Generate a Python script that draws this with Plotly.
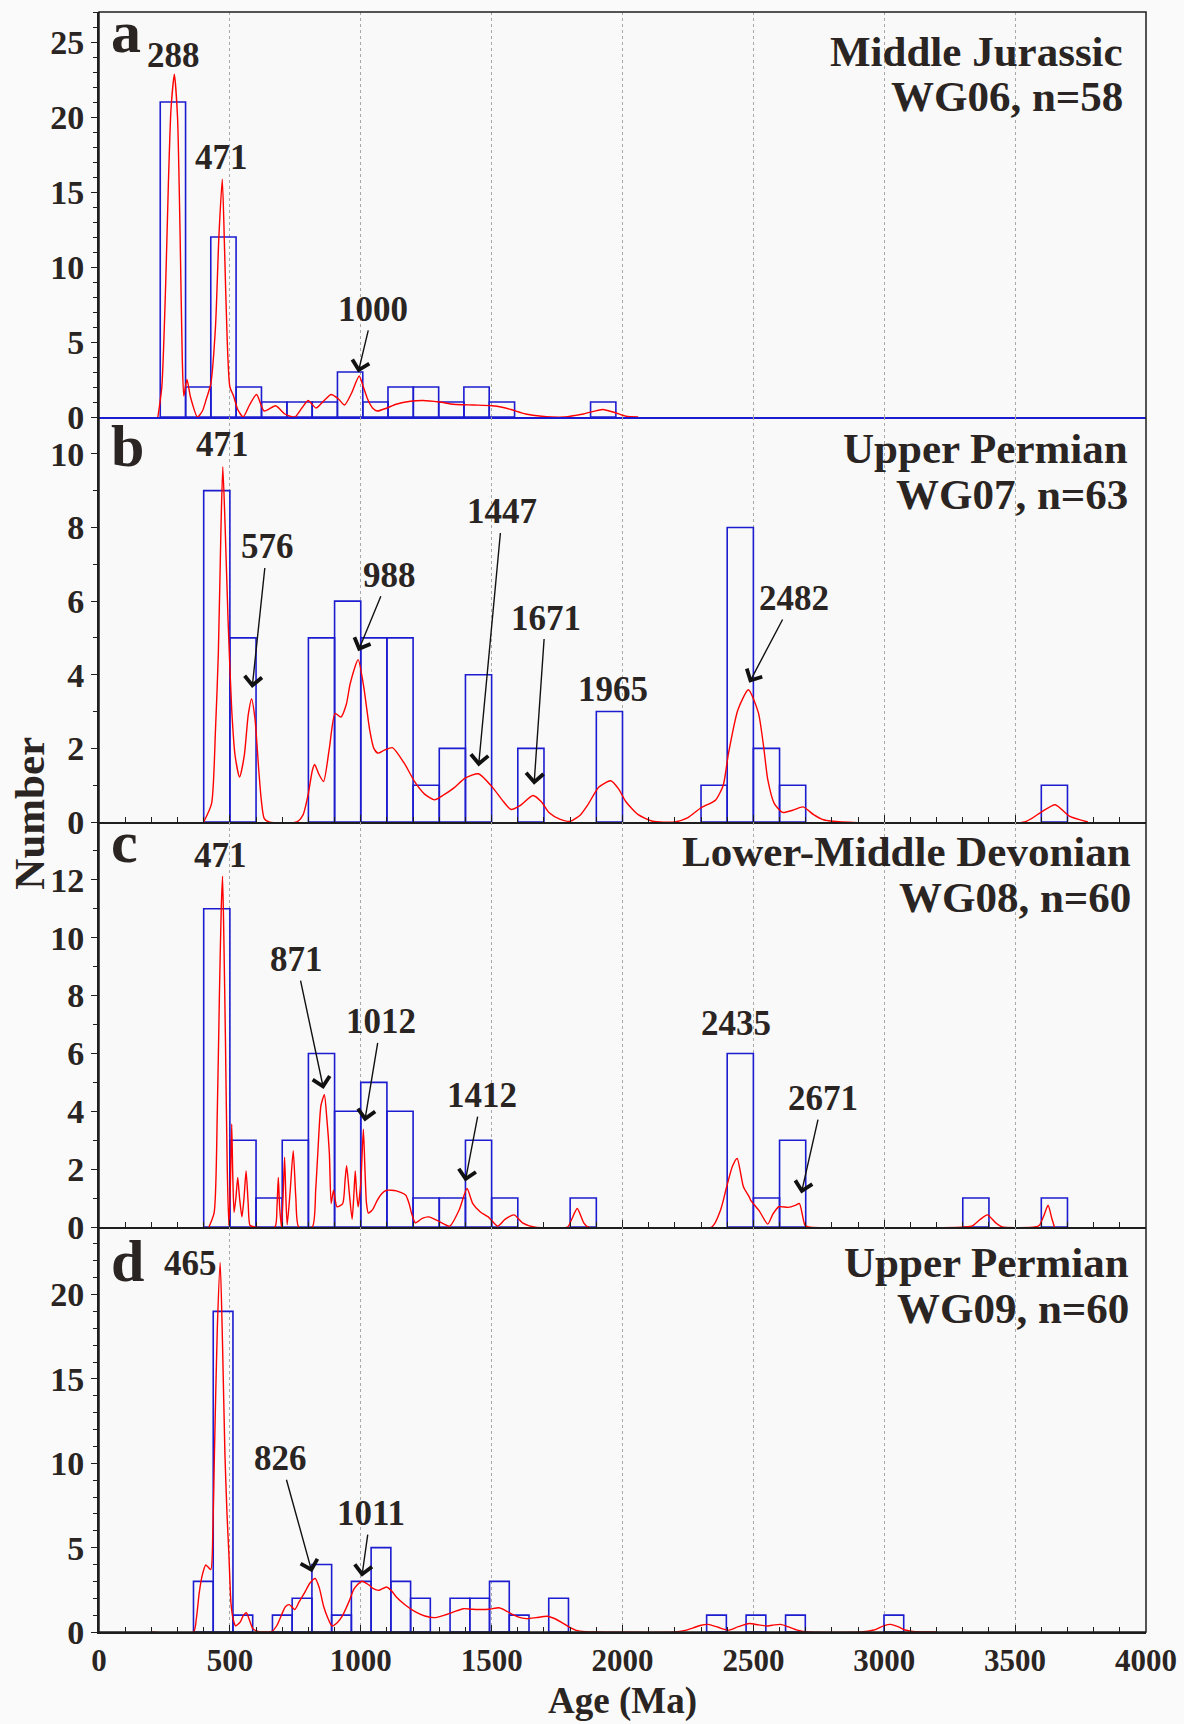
import plotly.graph_objects as go

FONT = "Liberation Serif"
TXT = "#2a2522"
BLUE = "#1c1cd0"
RED = "#ff0000"
AXC = "#1e1e1e"

# ---------------- histogram data (bin left edge in Ma, counts) ----------------
a_bin_left = [234, 331, 427, 524, 621, 718, 814, 911, 1008, 1104, 1201, 1298, 1394, 1491, 1878]
a_bin_width = 96.7
a_counts = [21, 2, 12, 2, 1, 1, 1, 3, 1, 2, 2, 1, 2, 1, 1]

b_bin_left = [400, 500, 800, 900, 1000, 1100, 1200, 1300, 1400, 1600, 1900, 2300, 2400, 2500, 2600, 3600]
b_bin_width = 100
b_counts = [9, 5, 5, 6, 5, 5, 1, 2, 4, 2, 3, 1, 8, 2, 1, 1]

c_bin_left = [400, 500, 600, 700, 800, 900, 1000, 1100, 1200, 1300, 1400, 1500, 1800, 2400, 2500, 2600, 3300, 3600]
c_bin_width = 100
c_counts = [11, 3, 1, 3, 6, 4, 5, 4, 1, 1, 3, 1, 1, 6, 1, 3, 1, 1]

d_bin_left = [361, 436.4, 511.8, 662.6, 738, 813.4, 888.8, 964.2, 1039.6, 1115, 1190.4, 1341.2, 1416.6,
              1492, 1567.4, 1718.2, 2321.4, 2472.2, 2623, 2999]
d_bin_width = 75.4
d_counts = [3, 19, 1, 1, 2, 4, 1, 3, 5, 3, 2, 2, 2, 3, 1, 2, 1, 1, 1, 1]

# ---------------- probability density curves ----------------
a_kde_age = [225, 240, 255, 265, 275, 288, 300, 310, 318, 324, 336, 350, 376, 395, 410, 427, 445, 458, 471,
             480, 490, 500, 514, 530, 551, 575, 602, 631, 675, 710, 748, 775, 799, 829, 860, 887, 915, 938,
             965, 994, 1010, 1026, 1045, 1063, 1100, 1135, 1190, 1238, 1300, 1355, 1430, 1501, 1540, 1574,
             1630, 1691, 1779, 1850, 1925, 1970, 2013, 2060]
a_kde_val = [0, 2, 9, 15.5, 20.5, 22.85, 20, 12, 4, 1.4, 2.5, 1.3, 0, 0.4, 1.2, 2.2, 6, 12, 15.85,
             11, 5, 2.0, 1.4, 0.5, 0, 0.8, 1.5, 0.4, 0.75, 0.2, 0, 0.6, 1.1, 0.6, 1.1, 1.5, 1.2, 0.8,
             1.6, 2.73, 2.0, 1.2, 0.6, 0.4, 0.6, 0.85, 1.05, 1.1, 1.0, 0.85, 0.8, 0.75, 0.65, 0.5,
             0.2, 0.05, 0, 0.2, 0.5, 0.3, 0.05, 0]

b_kde_age = [400, 430, 445, 456, 466, 473, 482, 493, 507, 520, 537, 555, 570, 583, 596, 610, 620, 631, 650,
             756, 780, 800, 815, 824, 840, 858, 880, 902, 924, 945, 960, 990, 1011, 1034, 1050, 1066, 1090,
             1121, 1165, 1209, 1245, 1282, 1320, 1355, 1400, 1450, 1501, 1540, 1574, 1610, 1658, 1690, 1720,
             1760, 1801, 1840, 1867, 1910, 1955, 1985, 2013, 2060, 2115, 2199, 2250, 2299, 2356, 2385, 2405,
             2441, 2481, 2519, 2540, 2555, 2580, 2612, 2650, 2690, 2730, 2768, 2839, 3536, 3600, 3653, 3707, 3778]
b_kde_val = [0, 0.5, 2.5, 4.6, 8, 9.65, 8, 5.5, 3.05, 1.8, 1.22, 1.8, 2.9, 3.34, 2.8, 1.44, 0.6, 0.1, 0,
             0, 0.2, 0.78, 1.4, 1.56, 1.3, 1.1, 2.0, 2.95, 2.85, 3.2, 3.77, 4.41, 3.69, 2.51, 2.0, 1.87, 1.95,
             2.02, 1.61, 1.06, 0.75, 0.6, 0.75, 0.92, 1.2, 1.31, 0.96, 0.6, 0.34, 0.45, 0.72, 0.55, 0.25,
             0.08, 0.02, 0.2, 0.46, 0.95, 1.12, 0.9, 0.55, 0.2, 0.02, 0, 0.12, 0.38, 0.6, 1.0, 1.87,
             3.05, 3.59, 2.97, 2.0, 1.15, 0.5, 0.26, 0.32, 0.41, 0.2, 0.06, 0, 0, 0.27, 0.47, 0.16, 0]

c_kde_age = [420, 440, 452, 460, 467, 472, 477, 483, 490, 496, 502, 507, 511, 516, 523, 530, 537, 546, 554,
             562, 570, 577, 595, 672, 680, 685, 690, 697, 703, 709, 714, 719, 730, 742, 752, 763, 815, 828,
             836, 848, 861, 870, 880, 887, 896, 909, 931, 940, 946, 955, 967, 973, 979, 984, 990, 1000, 1010,
             1016, 1022, 1029, 1045, 1063, 1080, 1099, 1136, 1172, 1185, 1194, 1209, 1235, 1260, 1297, 1340,
             1377, 1406, 1428, 1457, 1487, 1523, 1552, 1586, 1618, 1662, 1790, 1805, 1827, 1852, 1867, 2341,
             2375, 2398, 2420, 2438, 2462, 2484, 2490, 2505, 2523, 2555, 2575, 2597, 2633, 2660, 2676, 2697,
             2711, 3310, 3337, 3365, 3394, 3425, 3451, 3575, 3593, 3610, 3626, 3640, 3650]
c_kde_val = [0, 0.5, 4, 8, 11, 12.13, 10, 6.5, 2, 0.05, 1.5, 3.56, 1.8, 0.5, 1.0, 1.71, 1.0, 0.35, 1.0,
             1.94, 0.8, 0.05, 0, 0, 0.7, 1.71, 0.7, 0, 1.0, 2.41, 1.0, 0.08, 1.2, 2.64, 1.0, 0, 0, 1.3,
             2.56, 4.2, 4.57, 3.8, 2.56, 0.81, 1.27, 0.7, 0.81, 1.6, 2.12, 1.3, 0.27, 1.0, 1.94, 1.2, 0.7, 1.5, 3.38,
             2.0, 0.81, 0.48, 0.6, 0.92, 1.15, 1.27, 1.25, 1.1, 0.8, 0.48, 0.14, 0.3, 0.35, 0.2, 0.03,
             0.61, 1.33, 0.81, 0.52, 0.35, 0.03, 0.27, 0.42, 0.14, 0, 0, 0.25, 0.64, 0.14, 0, 0,
             0.6, 1.39, 2.1, 2.37, 1.39, 1.04, 0.92, 0.75, 0.55, 0.1, 0.45, 0.7, 0.68, 0.75, 0.81, 0.06,
             0, 0, 0.04, 0.25, 0.42, 0.15, 0, 0, 0.06, 0.4, 0.75, 0.3, 0]

d_kde_age = [200, 361, 372, 383, 395, 408, 427, 435, 441, 452, 463, 472, 481, 489, 496, 504, 512, 522, 540,
             552, 563, 575, 588, 610, 624, 661, 680, 698, 712, 727, 748, 765, 785, 806, 826, 842, 858, 875,
             890, 910, 931, 955, 975, 1004, 1030, 1048, 1070, 1099, 1120, 1136, 1170, 1209, 1245, 1282, 1320,
             1355, 1392, 1425, 1457, 1490, 1528, 1550, 1574, 1600, 1633, 1670, 1713, 1740, 1764, 1795, 1823,
             1860, 1896, 2199, 2240, 2270, 2300, 2327, 2365, 2405, 2440, 2484, 2520, 2555, 2580, 2604, 2635,
             2668, 2711, 2910, 2960, 3000, 3024, 3055, 3080, 3109, 3200]
d_kde_val = [0, 0, 0.8, 2.33, 3.4, 3.97, 3.7, 6, 10.6, 18, 21.9, 17, 10.6, 7, 4.7, 1.75, 0.8, 0.36, 0.6,
             1.0, 1.14, 0.7, 0.2, 0.02, 0, 0.04, 0.4, 1.04, 1.5, 1.62, 1.33, 1.8, 2.32, 2.9, 3.17, 2.6, 1.53, 0.8,
             0.36, 0.55, 0.99, 1.8, 2.57, 3.01, 2.8, 2.57, 2.47, 2.67, 2.4, 2.07, 1.6, 1.19, 0.95, 0.85, 1.0,
             1.19, 1.38, 1.35, 1.33, 1.35, 1.44, 1.3, 1.09, 0.9, 0.79, 0.85, 0.93, 0.8, 0.6, 0.3, 0.1,
             0.02, 0, 0, 0.1, 0.24, 0.4, 0.45, 0.28, 0.11, 0.3, 0.5, 0.42, 0.36, 0.42, 0.45, 0.3,
             0.11, 0, 0, 0.12, 0.38, 0.45, 0.3, 0.12, 0.04, 0]

# ---------------- labels ----------------
panel_letters = ["a", "b", "c", "d"]
panel_titles = [("Middle Jurassic", "WG06, n=58"),
                ("Upper Permian", "WG07, n=63"),
                ("Lower-Middle Devonian", "WG08, n=60"),
                ("Upper Permian", "WG09, n=60")]
y_ranges = [27.0, 11.0, 14.0, 24.0]
y_tickvals = [[0, 5, 10, 15, 20, 25], [0, 2, 4, 6, 8, 10], [0, 2, 4, 6, 8, 10, 12], [0, 5, 10, 15, 20]]
x_tick_vals = [0, 500, 1000, 1500, 2000, 2500, 3000, 3500, 4000]

# peak labels: (text, text_age, text_value, head_age, head_value)
a_peaks = [("288", 286, 24.1, None, None), ("471", 469, 17.3, None, None),
           ("1000", 1048, 7.17, 990, 2.96)]
b_peaks = [("471", 471, 10.25, None, None), ("576", 642, 7.47, 585, 3.64),
           ("988", 1110, 6.70, 990, 4.64), ("1447", 1541, 8.42, 1450, 1.51),
           ("1671", 1706, 5.54, 1662, 1.01), ("1965", 1962, 3.61, None, None),
           ("2482", 2654, 6.07, 2484, 3.78)]
c_peaks = [("471", 466, 12.85, None, None), ("871", 753, 9.24, 858, 4.77),
           ("1012", 1078, 7.09, 1015, 3.65), ("1412", 1462, 4.54, 1399, 1.57),
           ("2435", 2434, 7.04, None, None), ("2671", 2765, 4.44, 2683, 1.16)]
d_peaks = [("465", 350, 21.83, None, None), ("826", 694, 10.27, 814, 3.54),
           ("1011", 1038, 7.01, 1004, 3.27)]

hists = [(a_bin_left, a_bin_width, a_counts), (b_bin_left, b_bin_width, b_counts),
         (c_bin_left, c_bin_width, c_counts), (d_bin_left, d_bin_width, d_counts)]
kdes = [(a_kde_age, a_kde_val), (b_kde_age, b_kde_val), (c_kde_age, c_kde_val), (d_kde_age, d_kde_val)]
peaks = [a_peaks, b_peaks, c_peaks, d_peaks]

fig = go.Figure()
layout = dict(
    width=1184, height=1724,
    margin=dict(l=99, r=38, t=12, b=92, autoexpand=False),
    paper_bgcolor="#fafafa", plot_bgcolor="#f9f9f9",
    showlegend=False, barmode="overlay",
)

domains = [[0.75, 1.0], [0.5, 0.75], [0.25, 0.5], [0.0, 0.25]]
annotations = []
for i in range(4):
    n = "" if i == 0 else str(i + 1)
    xa, ya = "x" + n, "y" + n
    left, w, cnt = hists[i]
    fig.add_trace(go.Bar(x=[l + w / 2 for l in left], y=cnt, width=w,
                         marker=dict(color="rgba(0,0,0,0)", line=dict(color=BLUE, width=1.6)),
                         xaxis=xa, yaxis=ya, hoverinfo="skip"))
    ages, vals = kdes[i]
    fig.add_trace(go.Scatter(x=ages, y=vals, mode="lines",
                             line=dict(color=RED, width=1.4, shape="spline", smoothing=0.6),
                             xaxis=xa, yaxis=ya, hoverinfo="skip"))

    xdict = dict(domain=[0, 1], anchor=ya, range=[0, 4000], tickvals=x_tick_vals, automargin=False,
                 showgrid=True, gridcolor="#a8a8a8", griddash="dot", gridwidth=1,
                 zeroline=False, showline=True, linecolor=AXC, linewidth=1.5,
                 ticks="inside", ticklen=7, tickwidth=1.2, tickcolor=AXC,
                 minor=dict(dtick=100, tick0=0, ticks="inside", ticklen=5, tickwidth=1, tickcolor=AXC, showgrid=False),
                 showticklabels=(i == 3),
                 tickfont=dict(family=FONT, size=31, color=TXT, weight="bold"))
    if i == 0:
        xdict.update(ticks="", linecolor=BLUE, linewidth=2, minor=dict(ticks=""))
    ydict = dict(domain=domains[i], anchor=xa, range=[0, y_ranges[i]], tickvals=y_tickvals[i], automargin=False,
                 showgrid=False, zeroline=False, showline=True, linecolor=AXC, linewidth=2,
                 ticks="outside", ticklen=6, tickwidth=1.2, tickcolor=AXC,
                 minor=dict(dtick=1, tick0=0, ticks="outside", ticklen=4, tickwidth=1, tickcolor=AXC),
                 tickfont=dict(family=FONT, size=34, color=TXT, weight="bold"))
    layout["xaxis" + n] = xdict
    layout["yaxis" + n] = ydict

    for (txt, tx, ty, hx, hy) in peaks[i]:
        f = dict(family=FONT, size=35, color=TXT, weight="bold")
        if hx is None:
            annotations.append(dict(x=tx, y=ty, xref=xa, yref=ya, text=txt, showarrow=False,
                                    font=f, xanchor="center", yanchor="middle"))
        else:
            annotations.append(dict(x=hx, y=hy, ax=tx, ay=ty, xref=xa, yref=ya, axref=xa, ayref=ya,
                                    text=txt, showarrow=True, arrowhead=4, arrowsize=2.4,
                                    arrowwidth=1.4, arrowcolor="#111111", standoff=0,
                                    font=f, xanchor="center", yanchor="middle"))

# panel letters
letter_pos = [0.9878, 0.7322, 0.4874, 0.2293]
for i in range(4):
    annotations.append(dict(x=0.0096, y=letter_pos[i], xref="paper", yref="paper", text=panel_letters[i],
                            showarrow=False, xanchor="left", yanchor="middle",
                            font=dict(family=FONT, size=60, color=TXT, weight="bold")))
# panel titles
title_x = [0.980, 0.985, 0.988, 0.986]
title_y = [(0.9756, 0.9479), (0.7303, 0.7019), (0.4819, 0.4536), (0.2283, 0.1999)]
for i in range(4):
    for j in range(2):
        annotations.append(dict(x=title_x[i], y=title_y[i][j], xref="paper", yref="paper",
                                text=panel_titles[i][j], showarrow=False, xanchor="right", yanchor="middle",
                                font=dict(family=FONT, size=43, color=TXT, weight="bold")))
# axis titles
annotations.append(dict(x=-0.066, y=0.5057, xref="paper", yref="paper", text="Number", textangle=-90,
                        showarrow=False, xanchor="center", yanchor="middle",
                        font=dict(family=FONT, size=43, color=TXT, weight="bold")))
annotations.append(dict(x=0.5, y=-0.0425, xref="paper", yref="paper", text="Age (Ma)",
                        showarrow=False, xanchor="center", yanchor="middle",
                        font=dict(family=FONT, size=37, color=TXT, weight="bold")))
layout["annotations"] = annotations
layout["shapes"] = [dict(type="rect", xref="paper", yref="paper", x0=0, x1=1, y0=0, y1=1,
                         line=dict(color=AXC, width=1.5), fillcolor="rgba(0,0,0,0)")]
fig.update_layout(**layout)
fig.write_html("out.html")
